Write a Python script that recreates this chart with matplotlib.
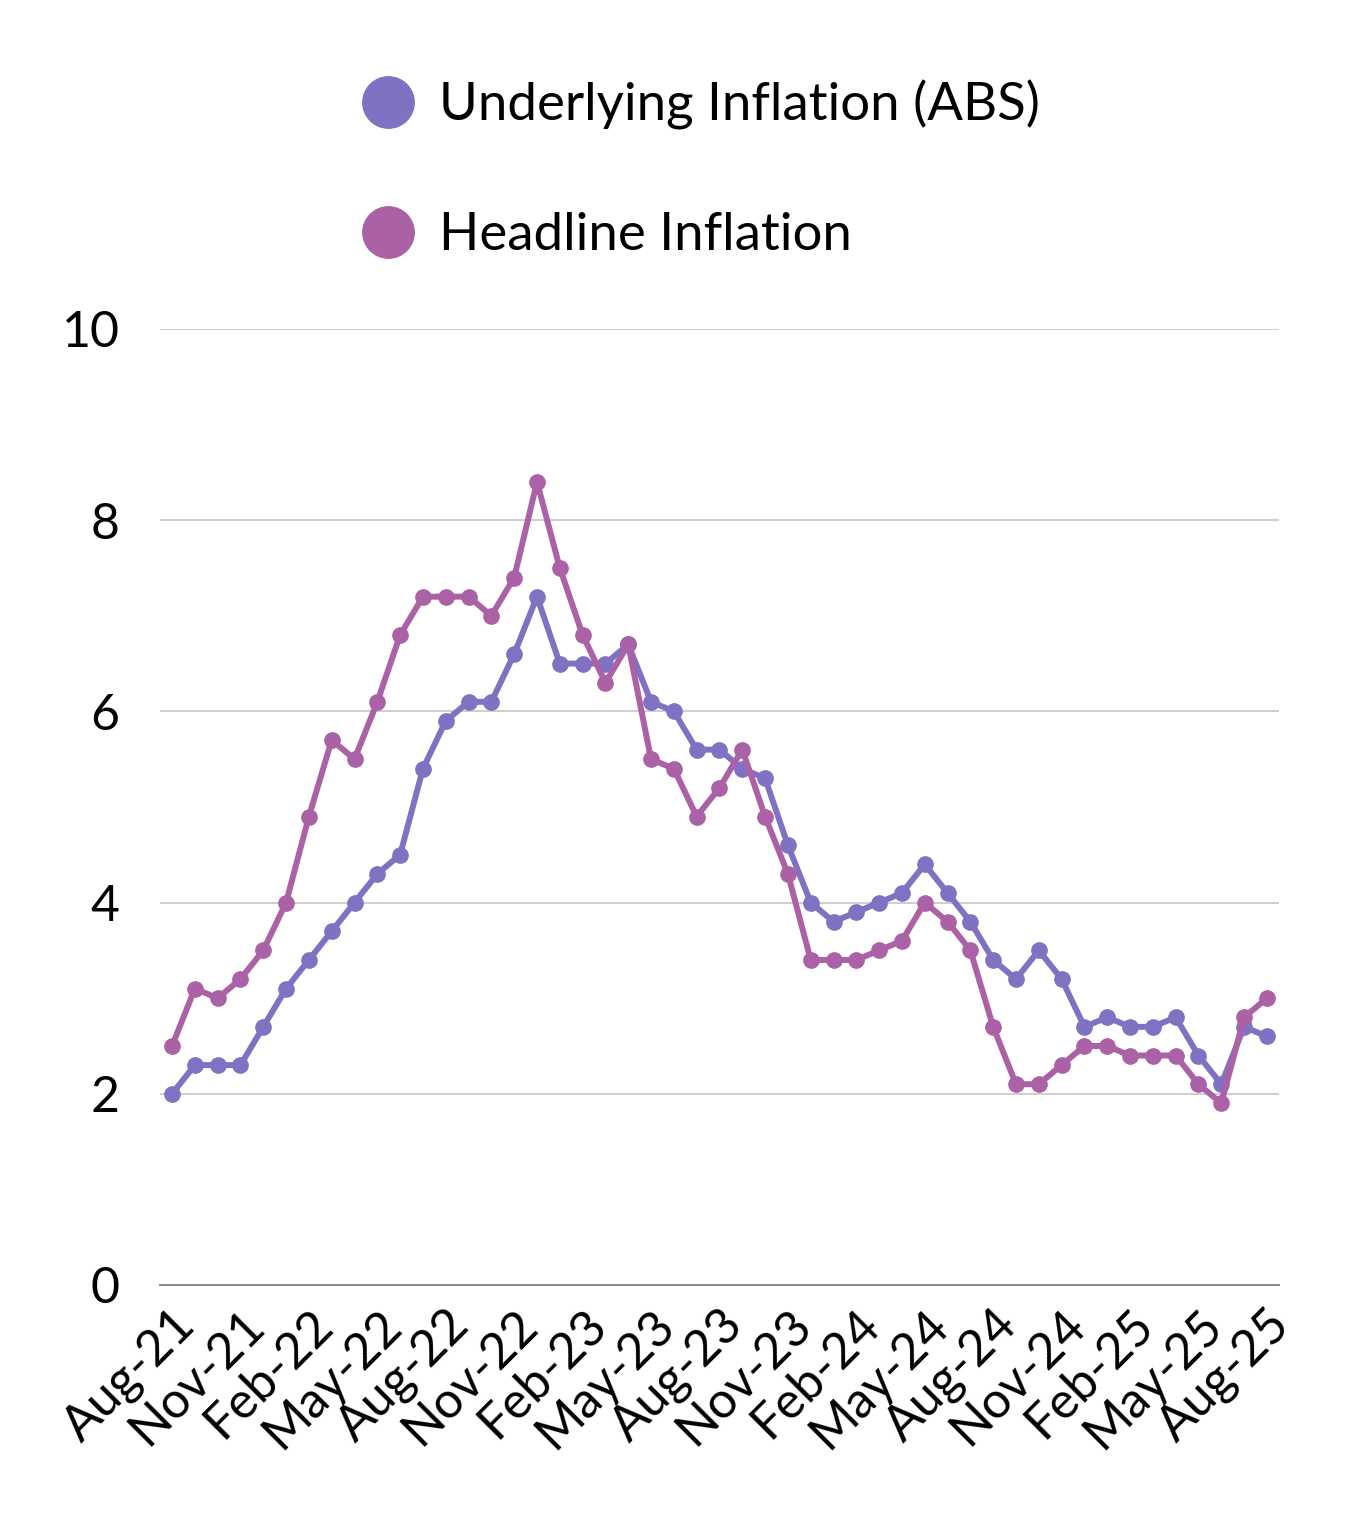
import numpy as np
import matplotlib.pyplot as plt
from matplotlib.lines import Line2D

# --- DATA ---
months = ["Aug-21", "Sep-21", "Oct-21", "Nov-21", "Dec-21", "Jan-22", "Feb-22", "Mar-22",
          "Apr-22", "May-22", "Jun-22", "Jul-22", "Aug-22", "Sep-22", "Oct-22", "Nov-22",
          "Dec-22", "Jan-23", "Feb-23", "Mar-23", "Apr-23", "May-23", "Jun-23", "Jul-23",
          "Aug-23", "Sep-23", "Oct-23", "Nov-23", "Dec-23", "Jan-24", "Feb-24", "Mar-24",
          "Apr-24", "May-24", "Jun-24", "Jul-24", "Aug-24", "Sep-24", "Oct-24", "Nov-24",
          "Dec-24", "Jan-25", "Feb-25", "Mar-25", "Apr-25", "May-25", "Jun-25", "Jul-25",
          "Aug-25"]

underlying = [2.0, 2.3, 2.3, 2.3, 2.7, 3.1, 3.4, 3.7, 4.0, 4.3, 4.5, 5.4, 5.9, 6.1, 6.1, 6.6,
              7.2, 6.5, 6.5, 6.5, 6.7, 6.1, 6.0, 5.6, 5.6, 5.4, 5.3, 4.6, 4.0, 3.8, 3.9, 4.0,
              4.1, 4.4, 4.1, 3.8, 3.4, 3.2, 3.5, 3.2, 2.7, 2.8, 2.7, 2.7, 2.8, 2.4, 2.1, 2.7,
              2.6]

headline = [2.5, 3.1, 3.0, 3.2, 3.5, 4.0, 4.9, 5.7, 5.5, 6.1, 6.8, 7.2, 7.2, 7.2, 7.0, 7.4,
            8.4, 7.5, 6.8, 6.3, 6.7, 5.5, 5.4, 4.9, 5.2, 5.6, 4.9, 4.3, 3.4, 3.4, 3.4, 3.5,
            3.6, 4.0, 3.8, 3.5, 2.7, 2.1, 2.1, 2.3, 2.5, 2.5, 2.4, 2.4, 2.4, 2.1, 1.9, 2.8,
            3.0]

yticks = [0, 2, 4, 6, 8, 10]

C_UNDER = "#8171c2"
C_HEAD = "#ab61a5"

plt.rcParams['font.family'] = ['Lato', 'DejaVu Sans']

fig = plt.figure(figsize=(13.51, 15.33), dpi=100)
ax = fig.add_axes([0.1184, 0.1618, 0.8283, 0.6236])

x = np.arange(len(months))
ax.plot(x, underlying, color=C_UNDER, lw=4.3, marker='o', ms=11, zorder=3)
ax.plot(x, headline, color=C_HEAD, lw=4.3, marker='o', ms=11, zorder=4)

ax.set_xlim(-0.53, len(months) - 1 + 0.53)
ax.set_ylim(0, 10)
ax.set_yticks(yticks)
ax.set_yticklabels([str(v) for v in yticks], fontsize=36)
ax.set_xticks(x[::3])
ax.set_xticklabels(months[::3], fontsize=36, rotation=45, ha='right', rotation_mode='anchor')

ax.grid(axis='y', color='#c6c6c6', lw=1.2)
ax.set_axisbelow(True)
for s in ['top', 'right', 'left']:
    ax.spines[s].set_visible(False)
ax.spines['bottom'].set_color('#8a8a8a')
ax.spines['bottom'].set_linewidth(1.4)
ax.tick_params(axis='x', length=0, pad=12)
ax.tick_params(axis='y', length=0, pad=29)

handles = [
    Line2D([], [], color=C_UNDER, marker='o', ls='none', ms=37, label='Underlying Inflation (ABS)'),
    Line2D([], [], color=C_HEAD, marker='o', ls='none', ms=37, label='Headline Inflation'),
]
fig.legend(handles=handles, loc='upper left', bbox_to_anchor=(0.2323, 0.965), frameon=False,
           fontsize=38, labelspacing=1.55, handlelength=1.8, handletextpad=0.08, borderpad=0)

fig.savefig("out.png", dpi=100, facecolor='white')
